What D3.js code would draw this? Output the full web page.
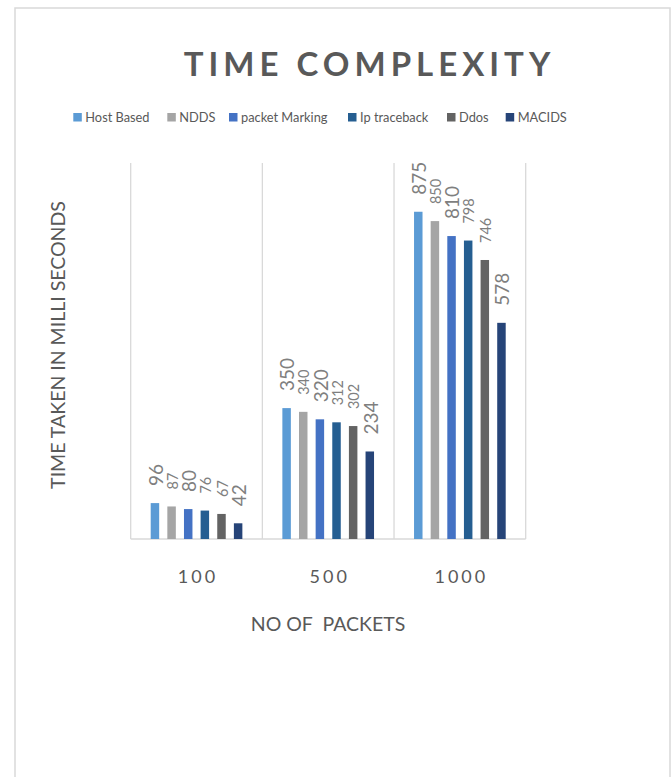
<!DOCTYPE html>
<html><head><meta charset="utf-8">
<script src="https://cdn.jsdelivr.net/npm/d3@7"></script>
<style>html,body{margin:0;padding:0;background:#fff;}svg{display:block;}</style>
</head><body>
<script>
const categories = ["100", "500", "1000"];
const seriesNames = ["Host Based", "NDDS", "packet Marking", "Ip traceback", "Ddos", "MACIDS"];
const hostBased = [96, 350, 875];
const ndds = [87, 340, 850];
const packetMarking = [80, 320, 810];
const ipTraceback = [76, 312, 798];
const ddos = [67, 302, 746];
const macids = [42, 234, 578];
const seriesColors = ["#5B9BD5", "#A5A5A5", "#4472C4", "#255E91", "#636363", "#264478"];
const seriesValues = [hostBased, ndds, packetMarking, ipTraceback, ddos, macids];
const bigLabelSeries = [true, false, true, false, false, true];

const W = 672, H = 777;
const svg = d3.select("body").append("svg").attr("width", W).attr("height", H);

// outer frame
svg.append("rect").attr("x", 15).attr("y", 8).attr("width", 655).attr("height", H)
  .attr("fill", "#fff").attr("stroke", "#d9d9d9").attr("stroke-width", 1.5);

const font = "Lato, 'Open Sans', sans-serif";

// title
svg.append("text").attr("x", 367 + 2.5).attr("y", 76).attr("text-anchor", "middle")
  .attr("font-family", font).attr("font-weight", 700).attr("font-size", 33)
  .attr("letter-spacing", 5).attr("fill", "#595959").text("TIME COMPLEXITY");

// scales
const plotL = 130.7, plotR = 525.7, plotTop = 163, base = 539;
const x0 = d3.scaleBand().domain(categories).range([plotL, plotR]).padding(0);
const x1 = d3.scaleBand().domain(seriesNames).range([20, x0.bandwidth() - 20]).paddingInner(0.49).paddingOuter(0);
const y = d3.scaleLinear().domain([0, 1000]).range([base, 165]);

// gridlines (category boundaries)
const g = svg.append("g");
const bounds = categories.map(c => x0(c)).concat([plotR]);
g.selectAll("line.v").data(bounds).join("line")
  .attr("x1", d => d).attr("x2", d => d).attr("y1", plotTop).attr("y2", base)
  .attr("stroke", "#d9d9d9").attr("stroke-width", 1.3);
g.append("line").attr("x1", plotL).attr("x2", plotR).attr("y1", base).attr("y2", base)
  .attr("stroke", "#d9d9d9").attr("stroke-width", 1.5);

// bars
const rows = [];
categories.forEach((c, ci) => seriesNames.forEach((s, si) => rows.push({c, s, si, v: seriesValues[si][ci]})));
svg.append("g").selectAll("rect").data(rows).join("rect")
  .attr("x", d => x0(d.c) + x1(d.s)).attr("y", d => y(d.v))
  .attr("width", x1.bandwidth()).attr("height", d => base - y(d.v))
  .attr("fill", d => seriesColors[d.si]);

// labels
svg.append("g").selectAll("text").data(rows).join("text")
  .attr("transform", d => {
    const cx = x0(d.c) + x1(d.s) + x1.bandwidth() / 2 + 1;
    return `translate(${cx},${y(d.v) - 17}) rotate(-90)`;
  })
  .attr("dy", "0.36em")
  .attr("font-family", font)
  .attr("font-size", d => bigLabelSeries[d.si] ? 19 : 14.5)
  .attr("fill", "#7f7f7f")
  .text(d => d.v);

// x tick labels
svg.append("g").selectAll("text").data(categories).join("text")
  .attr("x", d => x0(d) + x0.bandwidth() / 2 + 1.5).attr("y", 582.5).attr("text-anchor", "middle")
  .attr("font-family", font).attr("font-size", 18).attr("letter-spacing", 3)
  .attr("fill", "#595959").text(d => d);

// axis titles
svg.append("text").attr("x", 328).attr("y", 631).attr("text-anchor", "middle")
  .attr("font-family", font).attr("font-size", 19.5).attr("fill", "#595959")
  .attr("xml:space", "preserve").style("white-space", "pre").text("NO OF  PACKETS");
svg.append("text").attr("transform", "translate(65,345) rotate(-90)").attr("text-anchor", "middle")
  .attr("font-family", font).attr("font-size", 19.5).attr("fill", "#595959")
  .text("TIME TAKEN IN MILLI SECONDS");

// legend
const legendX = [73.3, 167.3, 229, 348, 447, 505.7];
const lg = svg.append("g").selectAll("g").data(seriesNames).join("g")
  .attr("transform", (d, i) => `translate(${legendX[i]},113)`);
lg.append("rect").attr("width", 8.5).attr("height", 8.5).attr("fill", (d, i) => seriesColors[i]);
lg.append("text").attr("x", 12).attr("y", 9).attr("font-family", font).attr("font-size", 12.8)
  .attr("fill", "#595959").text(d => d);
</script>
</body></html>
